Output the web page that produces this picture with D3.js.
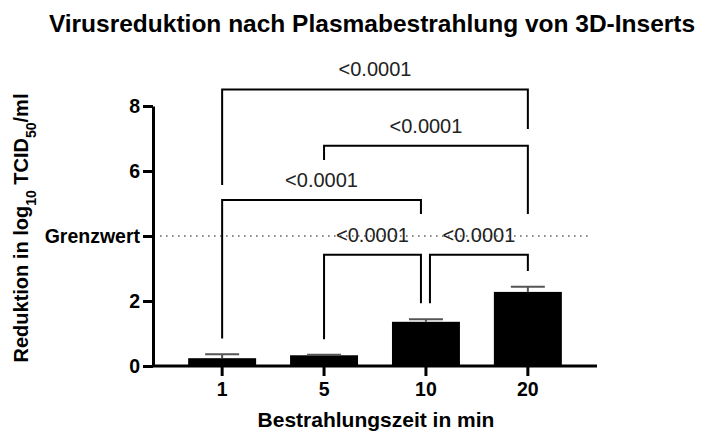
<!DOCTYPE html>
<html>
<head>
<meta charset="utf-8">
<script src="https://cdn.jsdelivr.net/npm/d3@7"></script>
<style>
  body { margin: 0; background: #fff; }
  svg { display: block; font-family: 'Liberation Sans', Arial, sans-serif; }
</style>
</head>
<body>
<svg id="chart" width="709" height="434"></svg>
<script>
// irradiation times (min) and log10 reduction, mean + SD
const categories = ['1', '5', '10', '20'];
const means = [0.24, 0.33, 1.36, 2.28];
const errors = [0.12, 0.02, 0.08, 0.16];
const yTicks = [0, 2, 4, 6, 8];
const limitValue = 4;

// comparisons: group a vs b, bracket level, leg ends (all y values)
const comparisons = [
  { a: '1', b: '20', level: 8.51, endA: 5.57, endB: 7.29, label: '<0.0001' },
  { a: '5', b: '20', level: 6.78, endA: 6.34, endB: 4.68, label: '<0.0001' },
  { a: '1', b: '10', level: 5.11, endA: 0.85, endB: 4.68, label: '<0.0001' },
  { a: '5', b: '10', level: 3.42, endA: 0.82, endB: 1.93, label: '<0.0001' },
  { a: '10', b: '20', level: 3.42, endA: 1.93, endB: 2.92, label: '<0.0001' }
];

const svg = d3.select('#chart');
const margin = { top: 106, right: 112, bottom: 68, left: 153 };
const width = 709, height = 434;

const x = d3.scaleBand()
  .domain(categories)
  .range([margin.left, width - margin.right])
  .paddingInner(0.333)
  .paddingOuter(0.345);

const y = d3.scaleLinear()
  .domain([0, 8])
  .range([height - margin.bottom, margin.top]);

const cx = d => x(d) + x.bandwidth() / 2;

// title
svg.append('text')
  .attr('x', 372)
  .attr('y', 32)
  .attr('text-anchor', 'middle')
  .style('font-weight', 'bold')
  .style('font-size', '24.5px')
  .text('Virusreduktion nach Plasmabestrahlung von 3D-Inserts');

// limit line
svg.append('line')
  .attr('x1', margin.left + 7)
  .attr('x2', width - margin.right - 5)
  .attr('y1', y(limitValue))
  .attr('y2', y(limitValue))
  .attr('stroke', '#666')
  .attr('stroke-width', 1.6)
  .attr('stroke-dasharray', '1.6,4.4');

// bars
svg.append('g')
  .selectAll('rect')
  .data(categories)
  .join('rect')
  .attr('x', d => x(d))
  .attr('width', x.bandwidth())
  .attr('y', (d, i) => y(means[i]))
  .attr('height', (d, i) => y(0) - y(means[i]))
  .attr('fill', '#000');

// error bars (upper only)
const eb = svg.append('g')
  .attr('stroke', '#555')
  .attr('stroke-width', 2);
categories.forEach((c, i) => {
  eb.append('line')
    .attr('x1', cx(c)).attr('x2', cx(c))
    .attr('y1', y(means[i])).attr('y2', y(means[i] + errors[i]));
  eb.append('line')
    .attr('x1', cx(c) - x.bandwidth() / 4).attr('x2', cx(c) + x.bandwidth() / 4)
    .attr('y1', y(means[i] + errors[i])).attr('y2', y(means[i] + errors[i]));
});

// axes
const xAxis = svg.append('g')
  .attr('transform', `translate(0, ${y(0)})`)
  .call(d3.axisBottom(x).tickSize(10).tickSizeOuter(0).tickPadding(6));

const yAxis = svg.append('g')
  .attr('transform', `translate(${margin.left}, 0)`)
  .call(d3.axisLeft(y).tickValues(yTicks).tickSize(10).tickSizeOuter(0).tickPadding(3)
    .tickFormat(d => d === limitValue ? 'Grenzwert' : d));

[xAxis, yAxis].forEach(g => {
  g.select('.domain').attr('stroke-width', 3).attr('stroke', '#000');
  g.selectAll('.tick line').attr('stroke-width', 3).attr('stroke', '#000');
  g.selectAll('.tick text')
    .style('font-family', "'Liberation Sans', Arial, sans-serif")
    .style('font-size', '19.5px')
    .style('font-weight', 'bold')
    .style('fill', '#000');
});
xAxis.select('.domain').attr('d', `M${margin.left},0H${width - margin.right}`);

// comparison brackets
const offset = (c, other) => {
  if (c !== '10') return 0;
  return categories.indexOf(other) < categories.indexOf(c) ? -5 : 4;
};
const br = svg.append('g');
comparisons.forEach(p => {
  const xa = cx(p.a) + offset(p.a, p.b);
  const xb = cx(p.b) + offset(p.b, p.a);
  br.append('path')
    .attr('d', `M${xa},${y(p.endA)}V${y(p.level)}H${xb}V${y(p.endB)}`)
    .attr('fill', 'none')
    .attr('stroke', '#000')
    .attr('stroke-width', 2);
  br.append('text')
    .attr('x', (xa + xb) / 2)
    .attr('y', y(p.level) - 13)
    .attr('text-anchor', 'middle')
    .style('font-size', '20px')
    .style('fill', '#222')
    .text(p.label);
});

// x axis title
svg.append('text')
  .attr('x', 376)
  .attr('y', 427)
  .attr('text-anchor', 'middle')
  .style('font-weight', 'bold')
  .style('font-size', '21px')
  .text('Bestrahlungszeit in min');

// y axis title
const yt = svg.append('text')
  .attr('transform', `translate(28, ${228}) rotate(-90)`)
  .attr('text-anchor', 'middle')
  .style('font-weight', 'bold')
  .style('font-size', '20px');
yt.append('tspan').text('Reduktion in log');
yt.append('tspan').attr('baseline-shift', 'sub').style('font-size', '14px').text('10');
yt.append('tspan').text('\u00a0TCID');
yt.append('tspan').attr('baseline-shift', 'sub').style('font-size', '14px').text('50');
yt.append('tspan').text('/ml');
</script>
</body>
</html>
